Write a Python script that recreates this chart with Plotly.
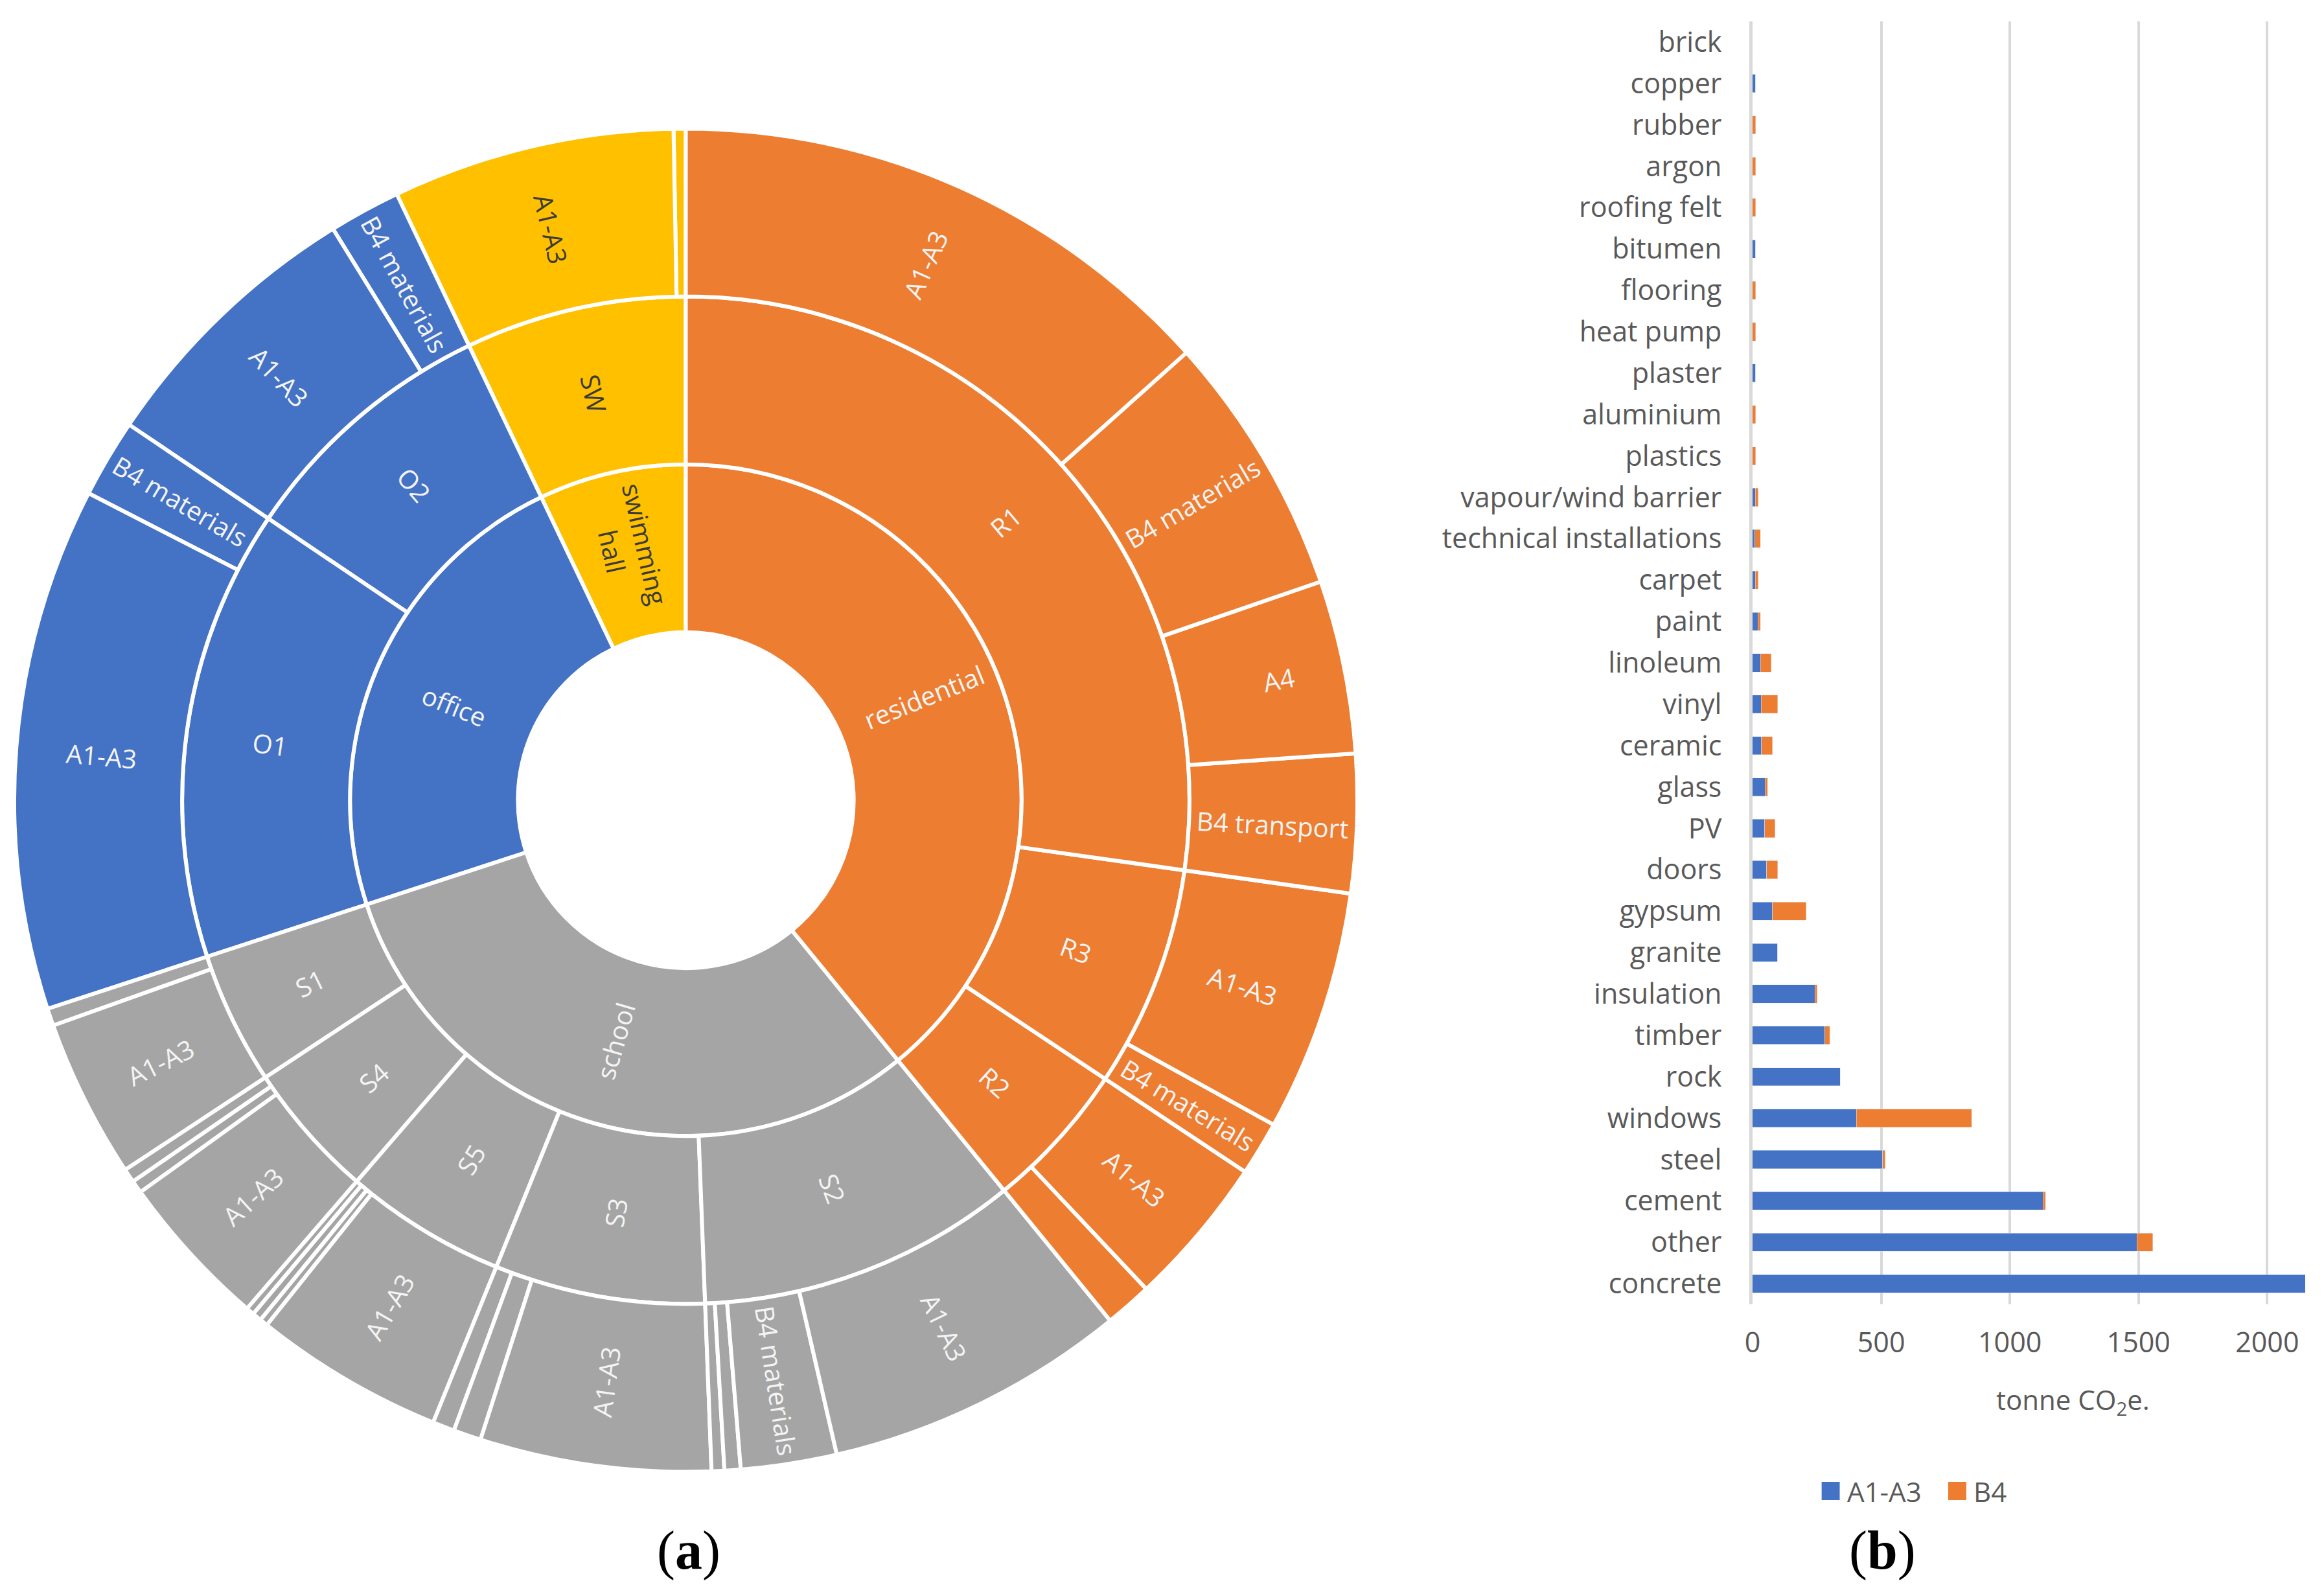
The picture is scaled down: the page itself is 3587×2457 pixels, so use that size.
import plotly.graph_objects as go

# --- (a) sunburst, leaf shares (degrees of the ring) ---
ids = [
    "root",
    "residential", "school", "office", "swim",
    "R1", "R3", "R2",
    "S2", "S3", "S5", "S4", "S1",
    "O1", "O2", "SW",
    "R1a", "R1b", "R1c", "R1d",
    "R3a", "R3b",
    "R2a", "R2b",
    "S2a", "S2b", "S2c", "S2d",
    "S3a", "S3b", "S3c",
    "S5a", "S5b", "S5c", "S5d",
    "S4a", "S4b", "S4c",
    "S1a", "S1b",
    "O1a", "O1b",
    "O2a", "O2b",
    "SWa", "SWb",
]
labels = [
    "",
    "residential", "school", "office", "swimming<br>hall",
    "R1", "R3", "R2",
    "S2", "S3", "S5", "S4", "S1",
    "O1", "O2", "SW",
    "A1-A3", "B4 materials", "A4", "B4 transport",
    "A1-A3", "B4 materials",
    "A1-A3", "",
    "A1-A3", "B4 materials", "", "",
    "A1-A3", "", "",
    "A1-A3", "", "", "",
    "A1-A3", "", "",
    "A1-A3", "",
    "A1-A3", "B4 materials",
    "A1-A3", "B4 materials",
    "A1-A3", "",
]
parents = [
    "",
    "root", "root", "root", "root",
    "residential", "residential", "residential",
    "school", "school", "school", "school", "school",
    "office", "office", "swim",
    "R1", "R1", "R1", "R1",
    "R3", "R3",
    "R2", "R2",
    "S2", "S2", "S2", "S2",
    "S3", "S3", "S3",
    "S5", "S5", "S5", "S5",
    "S4", "S4", "S4",
    "S1", "S1",
    "O1", "O1",
    "O2", "O2",
    "SW", "SW",
]
values = [
    0,
    0, 0, 0, 0,
    0, 0, 0,
    0, 0, 0, 0, 0,
    0, 0, 0,
    48.2, 22.8, 15.0, 12.0,
    20.9, 4.7,
    13.1, 4.1,
    26.2, 8.3, 1.4, 1.1,
    20.0, 2.4, 1.9,
    16.5, 0.7, 0.8, 0.7,
    13.5, 1.1, 1.2,
    13.8, 1.5,
    45.3, 6.8,
    24.3, 6.2,
    24.45, 1.05,
]

BLUE = "#4472C4"
ORANGE = "#ED7D31"
GREY = "#A5A5A5"
YELLOW = "#FFC000"

top_group = {"residential": ORANGE, "school": GREY, "office": BLUE, "swim": YELLOW}


def sector_colour(i):
    node = ids[i]
    while node != "root" and parents[ids.index(node)] != "root":
        node = parents[ids.index(node)]
    return top_group.get(node, "white")


colours = [sector_colour(i) for i in range(len(ids))]
text_colours = ["#3b3b3b" if c == YELLOW else "#f4f4f4" for c in colours]

# plotly snaps wide sectors' text to horizontal and pushes short labels outwards,
# so these go on as annotations. id: (x px, y px, text angle)
placed_labels = {
    "residential": (1419, 1075, -22),
    "R1": (1545, 805, -40),
    "office": (692, 1089, 22),
    "O1": (406, 1148, 8),
    "O1a": (145, 1167, 5),
    "R1d": (1959, 1272, 3),
    "S4": (566, 1663, -41),
    "S1": (468, 1517, -26),
    "S5": (717, 1789, -59),
    "S3": (941, 1871, -80),
    "R2": (1529, 1670, 42),
    "R3": (1655, 1466, 20),
}
sector_text = ["" if i in placed_labels else t for i, t in zip(ids, labels)]

# --- (b) stacked bars, tonne CO2e ---
materials = [
    "brick", "copper", "rubber", "argon", "roofing felt", "bitumen", "flooring",
    "heat pump", "plaster", "aluminium", "plastics", "vapour/wind barrier",
    "technical installations", "carpet", "paint", "linoleum", "vinyl", "ceramic",
    "glass", "PV", "doors", "gypsum", "granite", "insulation", "timber", "rock",
    "windows", "steel", "cement", "other", "concrete",
]
a1_a3 = [
    0, 12, 0, 0, 0, 12, 0,
    0, 12, 0, 0, 11,
    10, 11, 21, 31, 33, 35,
    49, 47, 55, 78, 98, 242, 282, 340,
    404, 506, 1128, 1494, 2150,
]
b4 = [
    0, 0, 12, 12, 12, 0, 12,
    12, 0, 12, 12, 11,
    21, 11, 10, 41, 65, 43,
    9, 40, 43, 131, 0, 9, 18, 0,
    448, 9, 11, 62, 0,
]

W, H = 3587, 2457
OFFSET = 8  # the page body adds this margin round the figure
TXT = "#595959"
FONT = "Open Sans"


def fx(px):
    return (px - OFFSET) / W


def fy(px):
    return (H - (px - OFFSET)) / H


fig = go.Figure()

# sunburst runs counter-clockwise, so feed it backwards to read clockwise from 12 o'clock
fig.add_trace(go.Sunburst(
    ids=ids[::-1],
    labels=labels[::-1],
    parents=parents[::-1],
    values=values[::-1],
    text=sector_text[::-1],
    branchvalues="remainder",
    sort=False,
    rotation=90,
    textinfo="text",
    insidetextorientation="radial",
    insidetextfont=dict(family=FONT, size=40, color=text_colours[::-1]),
    leaf=dict(opacity=1),
    marker=dict(colors=colours[::-1], line=dict(color="white", width=6)),
    domain=dict(x=[fx(1050 - 1040), fx(1050 + 1040)],
                y=[fy(1235 + 1040), fy(1235 - 1040)]),
    hoverinfo="skip",
))

fig.add_trace(go.Bar(y=materials, x=a1_a3, orientation="h", name="A1-A3", marker_color=BLUE))
fig.add_trace(go.Bar(y=materials, x=b4, orientation="h", name="B4", marker_color=ORANGE))


def panel_label(text, x):
    return dict(text=text, x=fx(x), y=fy(2393), xref="paper", yref="paper", xanchor="center",
                yanchor="middle", showarrow=False,
                font=dict(family="Liberation Serif", size=84, color="black"))


def legend_text(text, x):
    return dict(text=text, x=fx(x), y=fy(2301), xref="paper", yref="paper", xanchor="left",
                yanchor="middle", showarrow=False, font=dict(size=42, color=TXT))


def legend_box(colour, x):
    return dict(type="rect", xref="paper", yref="paper", x0=fx(x), x1=fx(x + 28),
                y0=fy(2315), y1=fy(2287), fillcolor=colour, line_width=0)


def sector_label(node):
    x, y, angle = placed_labels[node]
    return dict(text=labels[ids.index(node)], x=fx(x), y=fy(y), xref="paper", yref="paper",
                xanchor="center", yanchor="middle", textangle=angle, showarrow=False,
                font=dict(family=FONT, size=40, color="#f4f4f4"))


fig.update_layout(
    width=W,
    height=H,
    margin=dict(l=0, r=0, t=0, b=0),
    paper_bgcolor="white",
    plot_bgcolor="white",
    barmode="stack",
    bargap=0.56,
    showlegend=False,
    font=dict(family=FONT, size=43, color=TXT),
    xaxis=dict(
        domain=[fx(2702), fx(3558)],
        range=[0, 2148],
        tickvals=[0, 500, 1000, 1500, 2000],
        showgrid=True,
        gridcolor="#d9d9d9",
        gridwidth=4,
        zeroline=False,
        showline=False,
        ticks="",
        ticklabelstandoff=30,
    ),
    yaxis=dict(
        domain=[fy(2013), fy(33)],
        autorange="reversed",
        showline=True,
        linecolor="#d9d9d9",
        linewidth=5,
        showgrid=False,
        ticks="",
        ticklabelstandoff=34,
    ),
    shapes=[legend_box(BLUE, 2809), legend_box(ORANGE, 3005)],
    annotations=[
        panel_label("(<b>a</b>)", 1055),
        panel_label("(<b>b</b>)", 2903),
        dict(text="tonne CO<sub>2</sub>e.", x=fx(3198), y=fy(2162), xref="paper", yref="paper",
             xanchor="center", yanchor="middle", showarrow=False, font=dict(size=42, color=TXT)),
        legend_text("A1-A3", 2846),
        legend_text("B4", 3042),
    ] + [sector_label(node) for node in placed_labels],
)

fig.write_html("out.html")
